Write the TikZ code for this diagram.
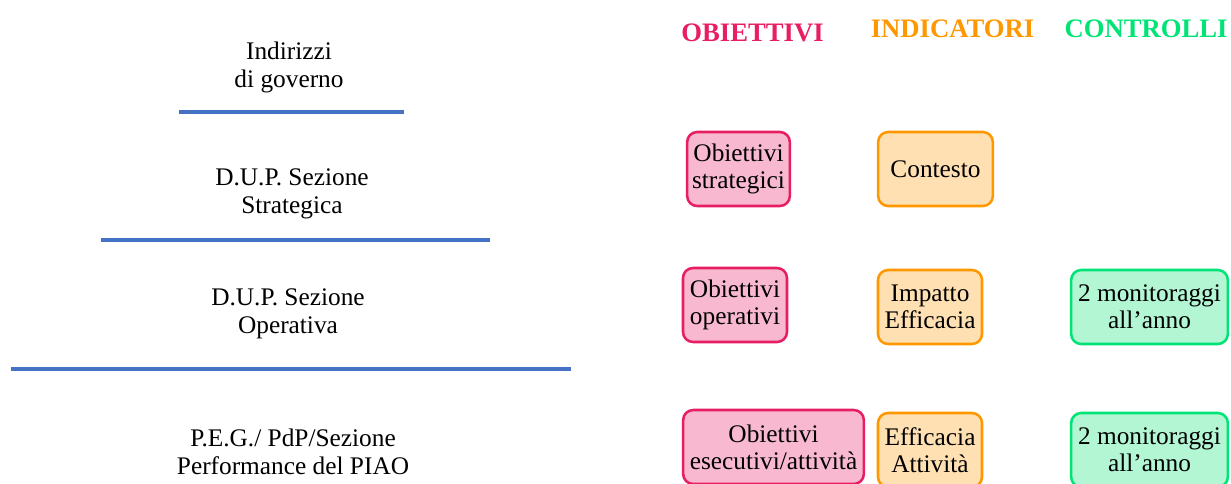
\documentclass[tikz,border=0pt]{standalone}
\usepackage{fontspec}
\setmainfont{Liberation Serif}
\definecolor{pinkborder}{RGB}{232,30,99}
\definecolor{pinkfill}{RGB}{248,184,208}
\definecolor{orangeborder}{RGB}{255,152,0}
\definecolor{orangefill}{RGB}{255,224,178}
\definecolor{greenborder}{RGB}{0,228,118}
\definecolor{greenfill}{RGB}{178,246,212}
\definecolor{rulecol}{RGB}{68,114,196}
\tikzset{
  body/.style={font=\fontsize{19}{20.5}\selectfont, align=center, inner sep=0pt},
  lefttext/.style={body, anchor=base},
  header/.style={font=\fontsize{20}{24}\selectfont\bfseries, anchor=base, inner sep=0pt},
  box/.style={body, rounded corners=7.5pt, line width=1.9pt, minimum height=55.5pt},
  pinkbox/.style={box, draw=pinkborder, fill=pinkfill},
  orangebox/.style={box, draw=orangeborder, fill=orangefill},
  greenbox/.style={box, draw=greenborder, fill=greenfill},
  rule/.style={draw=rulecol, line width=2.3pt}
}
\begin{document}
\begin{tikzpicture}[x=0.75pt, y=-0.75pt]
\useasboundingbox (0,0) rectangle (1231,483);
% left column (anchor = baseline of the last line)
\node[lefttext] (gov) at (289,87) {Indirizzi\\di governo};
\node[lefttext] (dss) at (292,213) {D.U.P. Sezione\\Strategica};
\node[lefttext] (dso) at (288,333) {D.U.P. Sezione\\Operativa};
\node[lefttext] (peg) at (293,474) {P.E.G./ PdP/Sezione\\Performance del PIAO};
\coordinate (r1a) at (179,112); \coordinate (r1b) at (404,112);
\coordinate (r2a) at (101,240); \coordinate (r2b) at (490,240);
\coordinate (r3a) at (11,369);  \coordinate (r3b) at (571,369);
\draw[rule] (r1a) -- (r1b);
\draw[rule] (r2a) -- (r2b);
\draw[rule] (r3a) -- (r3b);
% headers
\node[header, text=pinkborder] (hob) at (752.5,41) {OBIETTIVI};
\node[header, text=orangeborder] (hin) at (952.5,37) {INDICATORI};
\node[header, text=greenborder] (hco) at (1146,37) {CONTROLLI};
% boxes
\node[pinkbox, minimum width=77pt] (os) at (738.5,169) {Obiettivi\\strategici};
\node[orangebox, minimum width=86pt] (ctx) at (935.5,169) {Contesto};
\node[pinkbox, minimum width=78pt] (oo) at (735,305) {Obiettivi\\operativi};
\node[orangebox, minimum width=78pt] (imp) at (930,307) {Impatto\\Efficacia};
\node[greenbox, minimum width=117.5pt] (c1) at (1149.5,307) {2 monitoraggi\\all’anno};
\node[pinkbox, minimum width=135.5pt] (oe) at (773.5,447) {Obiettivi\\esecutivi/attività};
\node[orangebox, minimum width=78pt] (ea) at (930,450) {Efficacia\\Attività};
\node[greenbox, minimum width=117.5pt] (c2) at (1149.5,450) {2 monitoraggi\\all’anno};
\end{tikzpicture}
\end{document}
